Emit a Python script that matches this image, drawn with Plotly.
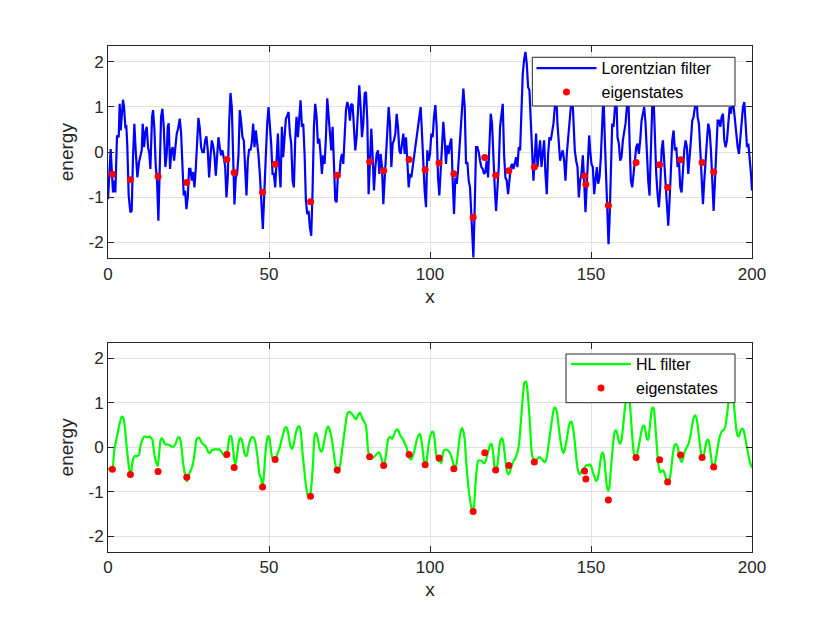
import plotly.graph_objects as go

# ---------------- data ----------------
blue_line = [
(0.0,-1.04),(0.83,0.07),(1.24,-0.48),(1.55,-0.89),(1.87,-0.63),(2.28,-0.89),(2.80,0.37),(3.32,0.33),(3.63,1.07),(3.94,0.48),
(4.66,1.16),(4.97,1.0),(5.39,0.56),(5.70,0.57),(6.01,0.11),(6.42,-0.96),(6.94,-1.33),(7.36,-1.30),(7.77,-0.11),(8.19,0.63),
(8.60,0.04),(9.12,-0.56),(9.64,-0.22),(10.05,-0.11),(10.47,0.04),(10.78,0.63),(11.19,0.11),(11.61,0.44),(12.02,0.56),(12.44,0.11),
(12.85,-0.04),(13.16,-0.37),(13.68,0.78),(13.99,0.93),(14.40,0.52),(14.82,-0.30),(15.23,-0.63),(15.65,-1.52),(16.06,-0.19),(16.48,0.78),
(16.89,0.96),(17.31,0.56),(17.82,-0.33),(18.24,-0.04),(18.55,0.56),(18.86,0.64),(19.27,-0.37),(19.69,0.04),(20.10,0.11),(20.52,-0.19),
(20.93,0.11),(21.35,0.41),(21.76,0.52),(22.28,0.74),(22.69,0.44),(23.11,-0.44),(23.52,-0.96),(23.94,-0.85),(24.35,-1.26),(24.77,-1.0),
(25.18,-0.37),(25.60,-0.37),(26.01,-0.63),(26.42,-0.44),(26.84,-0.78),(27.25,-0.37),(27.67,0.26),(28.08,0.76),(28.50,0.54),(28.91,0.11),
(29.33,0.0),(29.74,0.0),(30.16,0.26),(30.57,0.35),(30.98,0.04),(31.40,-0.56),(31.81,-0.11),(32.23,0.26),(32.64,0.15),(33.06,-0.07),
(33.47,-0.52),(33.89,-0.07),(34.30,0.33),(34.72,0.11),(35.13,-0.07),(35.54,0.04),(35.96,-0.19),(36.37,-0.30),(36.79,-1.0),(37.20,-0.56),
(37.62,0.63),(38.03,1.31),(38.45,1.0),(38.86,0.11),(39.27,-1.16),(39.69,-0.56),(40.10,-0.48),(40.52,-0.07),(40.93,0.93),(41.35,0.67),
(41.76,0.33),(42.18,0.26),(42.59,-0.33),(43.01,-0.96),(43.42,-0.19),(43.83,0.07),(44.25,0.04),(44.66,0.22),(45.08,0.63),(45.49,0.11),
(45.91,0.48),(46.32,0.26),(46.74,-0.07),(47.15,-0.48),
(47.68,-1.37),(48.09,-1.70),(48.61,-0.78),(49.03,0.11),(49.44,0.63),(49.85,1.0),(50.27,0.63),(50.68,0.19),(51.10,-0.48),(51.51,-0.48),
(51.93,-0.78),(52.34,-0.04),(52.76,0.41),(53.17,-0.33),(53.59,-0.78),(54.0,0.56),(54.41,-0.11),(54.83,0.33),(55.24,0.74),(55.66,0.81),
(56.07,0.89),(56.49,0.41),(56.90,0.19),(57.32,-0.63),(57.73,-0.78),(58.14,0.26),(58.56,0.78),(58.97,0.33),(59.39,0.70),(59.80,1.15),
(60.22,0.56),(60.63,0.63),(61.05,-0.04),(61.46,-1.07),(61.87,-1.37),(62.29,-1.30),(62.70,-1.67),(63.12,-1.85),(63.53,-0.85),(63.95,0.56),
(64.36,1.07),(64.78,0.78),(65.19,0.19),(65.61,0.30),(66.02,-0.04),(66.43,-0.48),(66.85,-0.07),(67.26,-0.26),(67.68,0.33),(68.09,1.19),
(68.51,0.81),(68.92,0.48),(69.34,0.04),(69.75,0.56),(70.17,-0.48),(70.58,-1.07),(70.99,-1.11),(71.41,-0.48),(71.82,-0.56),(72.24,-0.19),
(72.65,-0.04),(73.07,-0.26),(73.48,0.33),(73.90,0.93),(74.31,1.11),(74.72,1.0),(75.14,0.70),(75.55,1.07),(75.97,1.04),(76.38,0.63),
(76.80,0.04),(77.21,0.33),(77.63,1.0),(78.04,1.48),(78.46,1.0),(78.87,0.33),(79.28,0.63),(79.70,1.30),(80.11,1.33),(80.53,0.70),
(80.94,-0.93),(81.36,0.04),(81.77,0.52),(82.19,-0.11),(82.60,-0.85),(83.02,-0.33),(83.43,-0.04),(83.84,0.04),(84.26,-0.48),(84.67,-0.04),
(85.09,-0.33),(85.50,-1.15),(85.92,-0.63),(86.33,0.04),(86.75,0.56),(87.16,1.0),(87.57,0.63),(87.99,-0.33),(88.40,0.19),(88.82,0.26),
(89.23,0.41),(89.65,0.85),(90.06,0.56),(90.48,0.04),(90.89,-0.04),(91.31,0.26),(91.72,0.41),(92.13,-0.04),(92.55,0.33),(92.96,-0.19),
(93.38,-0.78),(93.79,-0.48),(94.21,-0.56),(94.62,-0.33),(95.04,-0.11),(95.45,0.11),(95.87,0.33),(96.28,0.48),(96.69,0.70),
(97.10,1.0),(97.41,0.56),(97.93,-0.41),(98.34,-0.85),(98.76,-1.22),(99.17,0.04),(99.58,-0.19),(100.0,-0.04),(100.41,0.41),(100.83,0.33),
(101.24,0.78),(101.66,1.04),(102.07,0.56),(102.49,-0.56),(102.90,-0.96),(103.31,-0.48),(103.73,0.04),(104.14,0.67),(104.56,0.26),(104.97,-0.26),
(105.39,0.15),(105.80,-0.04),(106.22,0.19),(106.63,0.30),(107.05,-0.63),(107.46,-1.37),(107.87,-0.56),(108.29,-0.70),(108.70,-0.41),(109.12,0.04),
(109.53,0.70),(109.95,1.0),(110.36,1.41),(110.78,1.0),(111.19,-0.26),(111.61,-0.22),(112.02,-0.63),(112.43,-0.78),(112.85,-1.44),(113.26,-1.96),
(113.47,-2.33),(113.88,-1.22),(114.30,0.11),(114.71,0.11),(115.13,0.0),(115.54,-0.19),(115.96,-0.33),(116.37,-0.37),(116.79,-0.48),(117.20,-0.44),
(117.62,-0.19),(118.03,-0.56),(118.44,0.04),(118.86,0.85),(119.27,0.63),(119.69,-0.33),(120.10,-0.78),(120.52,-1.30),(120.93,-0.78),(121.35,-0.33),
(121.76,0.56),(122.18,0.85),(122.59,1.07),(123.0,-0.04),(123.42,-0.56),(123.83,-0.63),(124.25,-0.93),(124.66,-0.63),(125.08,-0.33),(125.49,-0.26),
(125.91,-0.37),(126.32,-0.26),(126.73,-0.11),(127.15,-0.33),(127.56,0.11),(127.98,0.04),(128.39,0.93),(128.81,1.74),(129.22,2.04),(129.64,2.22),
(130.05,1.96),(130.47,1.44),(130.88,1.37),(131.29,0.70),(131.71,0.04),(132.12,-0.63),(132.54,-0.11),(132.95,0.41),(133.37,-0.33),(133.78,-0.04),
(134.20,0.26),(134.61,-0.33),(135.02,-0.04),(135.44,0.26),(135.85,-0.48),(136.27,-0.93),(136.68,-0.04),(137.10,0.33),(137.51,0.26),(137.93,0.48),
(138.34,0.63),(138.76,1.0),(139.17,1.37),(139.58,0.63),(140.0,0.19),(140.41,-0.19),(140.83,-0.04),(141.24,0.04),(141.66,-0.19),(142.07,-0.63),
(142.49,-0.04),(142.90,0.26),(143.31,0.70),(143.73,1.0),(144.14,1.37),(144.56,0.56),(144.97,0.04),(145.39,-0.19),(145.80,-0.33),(146.22,-1.0),
(146.63,-0.63),
(147.04,-0.48),(147.46,-0.07),(147.87,-0.63),(148.29,-1.33),(148.70,-0.70),(149.12,0.04),(149.43,0.37),(149.74,0.04),(150.15,-0.26),(150.57,-0.33),
(150.98,-0.93),(151.40,-0.63),(151.81,-0.33),(152.23,-0.70),(152.64,-0.56),(153.06,-0.11),(153.47,0.63),(153.88,1.30),(154.30,0.26),(154.71,-0.70),
(155.13,-1.37),(155.44,-2.04),(155.76,-1.52),(156.17,-0.11),(156.58,0.63),(157.0,0.56),(157.41,1.0),(157.82,1.37),(158.24,0.33),(158.65,0.19),
(159.07,-0.19),(159.48,-0.11),(159.90,0.26),(160.31,0.48),(160.72,0.63),(161.14,1.0),(161.55,1.37),(161.97,0.26),(162.38,-0.63),(162.80,-0.78),
(163.21,-0.48),(163.62,-0.11),(164.04,0.11),(164.45,0.19),(164.87,-0.04),(165.28,0.26),(165.70,0.70),(166.11,0.85),(166.53,1.0),(166.94,0.63),
(167.36,-0.19),(167.77,-0.63),(168.18,-0.96),(168.60,0.04),(169.01,1.0),(169.43,1.22),(169.84,0.26),(170.26,-0.48),(170.67,-0.93),(171.09,-1.22),
(171.50,-0.78),(171.92,0.04),(172.33,0.26),(172.74,-0.19),(173.16,-0.78),(173.57,-1.07),(173.99,-1.63),(174.40,-1.07),(174.82,-0.33),(175.23,0.26),
(175.65,0.48),(176.06,0.04),(176.48,0.11),(176.89,-0.33),(177.30,-0.19),(177.72,-0.78),(178.13,-0.89),(178.55,-0.26),(178.96,0.04),(179.38,0.26),
(179.79,0.11),(180.20,-0.48),(180.62,0.04),(181.03,0.26),(181.45,0.70),(181.86,0.78),(182.28,1.0),(182.69,1.30),(183.11,0.78),(183.52,0.63),
(183.94,0.04),(184.35,-0.63),(184.77,-1.15),(185.18,-0.63),(185.59,-0.11),(186.01,0.26),(186.42,0.63),(186.84,0.48),(187.25,0.04),(187.67,-0.63),
(188.08,-1.30),(188.50,-0.63),(188.91,0.26),(189.33,0.70),(189.74,0.70),(190.16,0.56),(190.57,0.78),(190.98,0.85),(191.40,0.26),(191.81,0.11),
(192.23,0.26),(192.64,0.63),(193.06,1.0),(193.47,0.85),(193.89,1.15),(194.30,1.0),(194.72,0.70),(195.13,0.26),(195.55,0.11),(195.96,-0.04),
(196.38,0.26),(196.79,0.70),(197.20,1.0),(197.62,1.11),(198.03,0.63),(198.45,0.11),(198.86,0.19),(199.28,-0.11),(199.69,-0.48),(200.0,-0.85),
]

green_line = [
(0.0,-0.50),(0.73,-0.46),(1.35,-0.46),(1.97,-0.05),(2.80,0.25),(3.63,0.54),(4.25,0.69),(4.66,0.68),(5.08,0.54),(5.49,0.25),
(6.11,-0.20),(6.74,-0.54),(7.15,-0.57),(7.56,-0.35),(7.98,-0.24),(8.39,-0.19),(9.02,-0.20),(9.64,-0.16),(10.05,0.02),(10.67,0.17),
(11.30,0.25),(11.92,0.23),(12.54,0.23),(12.95,0.25),(13.37,0.21),(13.78,0.17),(14.20,-0.05),(14.61,-0.24),(15.03,-0.35),(15.44,-0.42),
(15.85,-0.16),(16.27,0.13),(16.68,0.21),(17.10,0.17),(17.51,0.10),(17.93,0.06),(18.55,0.07),(19.17,0.04),(19.79,0.02),(20.41,0.02),
(20.83,0.06),(21.24,0.13),(21.66,0.21),(22.07,0.23),(22.49,0.17),(22.90,-0.05),(23.32,-0.35),(23.73,-0.54),(24.15,-0.69),(24.56,-0.76),
(24.97,-0.65),(25.39,-0.57),(25.80,-0.50),(26.22,-0.42),(26.63,-0.27),(27.05,-0.05),(27.46,0.17),(27.88,0.21),(28.29,0.22),(28.70,0.17),
(29.12,0.10),(29.74,0.06),(30.36,0.02),(30.78,-0.05),(31.19,-0.11),(31.61,-0.13),(32.23,-0.07),(32.85,-0.05),(33.47,-0.04),(34.09,-0.05),
(34.51,-0.04),(34.92,-0.07),(35.34,-0.11),(35.75,-0.16),(36.17,-0.20),(36.58,-0.22),(36.99,-0.13),(37.41,0.10),(37.82,0.25),(38.24,0.25),
(38.65,0.10),(39.07,-0.20),(39.48,-0.39),(39.90,-0.27),(40.31,-0.05),(40.73,0.17),(41.14,0.21),(41.55,0.17),(41.97,0.02),(42.38,-0.13),
(42.80,-0.20),(43.21,-0.16),(43.63,0.02),(44.04,0.13),(44.46,0.21),(44.87,0.23),(45.28,0.21),(45.70,0.13),(46.11,-0.05),(46.53,-0.27),
(46.94,-0.57),
(47.57,-0.72),(47.99,-0.87),(48.40,-0.65),(48.82,-0.20),(49.23,0.10),(49.65,0.25),(50.06,0.23),(50.48,0.02),(50.89,-0.20),(51.30,-0.27),
(51.93,-0.27),(52.55,-0.16),(53.17,-0.04),(53.79,0.13),(54.41,0.30),(55.04,0.45),(55.45,0.45),(55.86,0.36),(56.28,0.17),(56.69,0.02),
(57.11,-0.04),(57.52,0.02),(57.94,0.17),(58.35,0.32),(58.77,0.43),(59.18,0.48),(59.60,0.45),(60.01,0.25),(60.42,-0.13),(60.84,-0.42),
(61.25,-0.72),(61.67,-0.95),(62.08,-1.09),(62.50,-1.09),(62.91,-1.02),(63.33,-0.72),(63.74,-0.27),(64.15,0.25),(64.57,0.32),(64.98,0.25),
(65.40,0.10),(65.81,-0.05),(66.23,-0.10),(66.64,-0.05),(67.06,0.10),(67.47,0.25),(67.89,0.40),(68.30,0.47),(68.71,0.43),(69.13,0.32),
(69.54,0.17),(69.96,-0.05),(70.37,-0.27),(70.79,-0.46),(71.20,-0.57),(71.62,-0.54),(72.03,-0.42),(72.45,-0.20),(72.86,0.02),(73.27,0.25),
(73.69,0.47),(74.10,0.69),(74.52,0.78),(74.93,0.80),(75.35,0.78),(75.76,0.75),(76.18,0.71),(76.59,0.66),(77.01,0.63),(77.42,0.68),
(77.83,0.75),(78.25,0.78),(78.66,0.72),(79.08,0.63),(79.49,0.58),(79.91,0.53),(80.32,0.36),(80.74,-0.05),(81.15,-0.20),(81.56,-0.24),
(82.19,-0.24),(82.81,-0.20),(83.43,-0.15),(84.05,-0.11),(84.47,-0.14),(84.88,-0.24),(85.30,-0.35),(85.71,-0.42),(86.12,-0.27),(86.54,-0.05),
(86.95,0.17),(87.37,0.23),(87.78,0.23),(88.20,0.19),(88.61,0.25),(89.03,0.32),(89.44,0.38),(89.85,0.41),(90.27,0.36),(90.68,0.28),
(91.10,0.23),(91.51,0.19),(91.93,0.13),(92.34,0.06),(92.76,-0.01),(93.17,-0.13),(93.58,-0.24),(94.0,-0.27),(94.41,-0.24),(94.83,-0.16),
(95.24,-0.05),(95.66,0.10),(96.07,0.21),(96.49,0.28),(96.90,0.30),
(97.30,0.17),(97.72,-0.05),(98.13,-0.31),(98.55,-0.41),(98.96,-0.31),(99.38,-0.05),(99.79,0.17),(100.21,0.28),(100.62,0.35),(101.04,0.34),
(101.45,0.17),(101.86,-0.13),(102.28,-0.27),(102.69,-0.31),(103.11,-0.31),(103.52,-0.36),(103.94,-0.16),(104.35,-0.07),(104.97,-0.05),(105.59,-0.07),
(106.22,-0.13),(106.63,-0.20),(107.05,-0.31),(107.46,-0.42),(107.87,-0.46),(108.29,-0.35),(108.70,-0.09),(109.12,0.17),(109.53,0.36),(109.95,0.43),
(110.36,0.36),(110.78,0.17),(111.19,-0.27),(111.61,-0.65),(112.02,-0.95),(112.43,-1.17),(112.85,-1.36),(113.26,-1.43),(113.68,-1.32),(114.09,-0.87),
(114.51,-0.50),(114.92,-0.31),(115.34,-0.29),(115.96,-0.30),(116.58,-0.35),(117.0,-0.35),(117.41,-0.27),(117.82,-0.16),(118.24,-0.05),(118.65,0.06),
(119.07,0.08),(119.48,-0.05),(119.90,-0.35),(120.31,-0.54),(120.72,-0.50),(121.14,-0.27),(121.55,0.02),(121.97,0.17),(122.38,0.21),(122.80,0.10),
(123.21,-0.16),(123.63,-0.42),(124.04,-0.57),(124.45,-0.61),(124.87,-0.54),(125.28,-0.42),(125.70,-0.35),(126.11,-0.29),(126.53,-0.24),(126.94,-0.16),
(127.36,-0.05),(127.77,0.17),(128.19,0.54),(128.60,0.92),(129.01,1.29),(129.43,1.47),(129.84,1.47),(130.26,1.29),(130.67,0.92),(131.09,0.47),
(131.50,-0.05),(131.92,-0.24),(132.33,-0.27),(132.95,-0.28),(133.57,-0.24),(133.99,-0.22),(134.40,-0.24),(134.82,-0.27),(135.23,-0.31),(135.65,-0.33),
(136.06,-0.29),(136.48,-0.13),(136.89,0.10),(137.30,0.32),(137.72,0.54),(138.13,0.73),(138.55,0.88),(138.96,0.89),(139.38,0.80),(139.79,0.58),
(140.21,0.32),(140.62,0.10),(141.04,-0.05),(141.45,-0.13),(141.87,-0.05),(142.28,0.10),(142.69,0.28),(143.11,0.47),(143.52,0.56),(143.94,0.58),
(144.35,0.47),(144.77,0.25),(145.18,-0.05),(145.60,-0.35),(146.01,-0.54),(146.42,-0.61),
(147.04,-0.54),(147.46,-0.50),(147.87,-0.47),(148.29,-0.42),(148.70,-0.39),(149.12,-0.41),(149.53,-0.38),(149.95,-0.41),(150.36,-0.50),(150.78,-0.60),
(151.19,-0.68),(151.60,-0.76),(152.02,-0.72),(152.43,-0.57),(152.85,-0.35),(153.26,-0.16),(153.68,-0.11),(154.09,-0.24),(154.51,-0.57),(154.92,-0.87),
(155.33,-0.98),(155.75,-0.87),(156.16,-0.50),(156.58,-0.13),(156.99,0.17),(157.41,0.36),(157.82,0.38),(158.24,0.28),(158.65,0.13),(159.07,0.08),
(159.48,0.17),(159.90,0.43),(160.31,0.73),(160.72,0.99),(161.14,1.16),(161.55,1.18),(161.97,1.07),(162.38,0.69),(162.80,0.25),(163.21,-0.09),
(163.62,-0.22),(164.04,-0.22),(164.45,-0.11),(164.87,0.04),(165.28,0.21),(165.70,0.38),(166.11,0.48),(166.53,0.48),(166.94,0.36),(167.36,0.19),
(167.77,0.17),(168.18,0.40),(168.60,0.69),(169.01,0.89),(169.43,0.88),(169.84,0.62),(170.26,0.21),(170.67,-0.20),(171.09,-0.46),(171.50,-0.56),
(171.92,-0.54),(172.33,-0.51),(172.74,-0.56),(173.16,-0.66),(173.57,-0.78),(173.99,-0.80),(174.40,-0.72),(174.82,-0.54),(175.23,-0.27),(175.65,-0.05),
(176.06,0.06),(176.48,0.07),(176.89,0.01),(177.30,-0.13),(177.72,-0.27),(178.13,-0.33),(178.55,-0.26),(178.96,-0.13),(179.38,-0.05),(179.79,0.01),
(180.20,0.06),(180.62,0.17),(181.03,0.32),(181.45,0.51),(181.86,0.66),(182.28,0.72),(182.69,0.68),(183.11,0.51),(183.52,0.25),(183.94,-0.01),
(184.35,-0.20),(184.77,-0.24),(185.18,-0.13),(185.59,0.04),(186.01,0.16),(186.42,0.17),(186.84,0.04),(187.25,-0.19),(187.67,-0.39),(188.08,-0.44),
(188.50,-0.36),(188.91,-0.20),(189.33,-0.01),(189.74,0.17),(190.16,0.28),(190.57,0.36),(190.98,0.38),(191.40,0.41),(191.81,0.51),(192.23,0.73),
(192.64,0.99),(193.06,1.22),(193.47,1.33),(193.89,1.29),(194.30,1.03),(194.72,0.69),(195.13,0.40),(195.55,0.25),(195.96,0.25),(196.38,0.36),
(196.79,0.42),(197.20,0.41),(197.62,0.32),(198.03,0.16),(198.45,-0.01),(198.86,-0.16),(199.28,-0.31),(200.0,-0.46),
]

eig_x = [1.37, 6.96, 15.55, 24.46, 36.9, 39.17, 48.0, 51.9, 62.9, 71.2, 81.25, 85.6, 93.5, 98.5, 102.8,
         107.4, 113.4, 117.0, 120.4, 124.5, 132.4, 148.0, 148.4, 155.4, 164.0, 171.3, 173.8, 177.8, 184.5, 188.1]
eig_y = [-0.49, -0.61, -0.54, -0.67, -0.16, -0.45, -0.89, -0.27, -1.10, -0.51, -0.21, -0.41, -0.16, -0.39, -0.24,
         -0.48, -1.44, -0.12, -0.51, -0.41, -0.33, -0.53, -0.71, -1.18, -0.23, -0.28, -0.78, -0.17, -0.23, -0.44]

x_ticks = [0, 50, 100, 150, 200]
y_ticks = [-2, -1, 0, 1, 2]
y_tick_text = ["-2", "-1", "0", "1", "2"]

# ---------------- figure ----------------
blue_x = [p[0] for p in blue_line]
blue_y = [p[1] for p in blue_line]
green_x = [p[0] for p in green_line]
green_y = [p[1] for p in green_line]

FONT = "Liberation Sans, Arial, Helvetica, sans-serif"
AX = "#262626"
GRID = "#e1e1e1"

fig = go.Figure()
fig.add_trace(go.Scatter(x=blue_x, y=blue_y, mode="lines", name="Lorentzian filter",
                         line=dict(color="#0000ff", width=2.2), xaxis="x", yaxis="y", legend="legend"))
fig.add_trace(go.Scatter(x=eig_x, y=eig_y, mode="markers", name="eigenstates",
                         marker=dict(color="#ff0000", size=7), xaxis="x", yaxis="y", legend="legend"))
fig.add_trace(go.Scatter(x=green_x, y=green_y, mode="lines", name="HL filter",
                         line=dict(color="#00ff00", width=2.2, shape="spline", smoothing=0.6),
                         xaxis="x2", yaxis="y2", legend="legend2"))
fig.add_trace(go.Scatter(x=eig_x, y=eig_y, mode="markers", name="eigenstates",
                         marker=dict(color="#ff0000", size=7), xaxis="x2", yaxis="y2", legend="legend2"))

def xax(anchor):
    return dict(range=[0, 200], tickvals=x_ticks, ticks="inside", ticklen=6, tickcolor=AX,
                showline=True, linecolor=AX, linewidth=1, mirror="ticks",
                showgrid=True, gridcolor=GRID, gridwidth=1, zeroline=False,
                tickfont=dict(family=FONT, size=17, color=AX),
                title=dict(text="x", font=dict(family=FONT, size=19, color=AX), standoff=6),
                anchor=anchor, automargin=False, domain=[0, 1])

def yax(anchor, domain):
    return dict(range=[-2.35, 2.35], tickvals=y_ticks, ticktext=y_tick_text, ticks="inside", ticklen=6,
                tickcolor=AX, showline=True, linecolor=AX, linewidth=1, mirror="ticks",
                showgrid=True, gridcolor=GRID, gridwidth=1, zeroline=False,
                tickfont=dict(family=FONT, size=17, color=AX),
                title=dict(text="energy", font=dict(family=FONT, size=19, color=AX), standoff=9),
                anchor=anchor, automargin=False, domain=domain)

legend_common = dict(xanchor="left", yanchor="top", bgcolor="rgba(0,0,0,0)", borderwidth=0,
                     font=dict(family=FONT, size=16, color="black"), itemwidth=60, tracegroupgap=0)

# legend frames (white boxes covering the lines, as in the reference)
legend_boxes = [
    dict(type="rect", xref="paper", yref="paper", x0=0.6589, x1=0.9736, y0=0.8814, y1=0.9777,
         fillcolor="white", line=dict(color=AX, width=1), layer="above"),
    dict(type="rect", xref="paper", yref="paper", x0=0.7112, x1=0.9736, y0=0.2951, y1=0.3913,
         fillcolor="white", line=dict(color=AX, width=1), layer="above"),
]

fig.update_layout(
    width=830, height=623,
    margin=dict(l=100, r=86, t=38, b=79),
    paper_bgcolor="white", plot_bgcolor="white",
    showlegend=True,
    xaxis=xax("y"),
    yaxis=yax("x", [0.5804, 1.0]),
    xaxis2=xax("y2"),
    yaxis2=yax("x2", [0.0, 0.4136]),
    legend=dict(x=0.6576, y=0.9896, **legend_common),
    legend2=dict(x=0.7112, y=0.4046, **legend_common),
    shapes=legend_boxes,
)

fig.write_html("out.html")
